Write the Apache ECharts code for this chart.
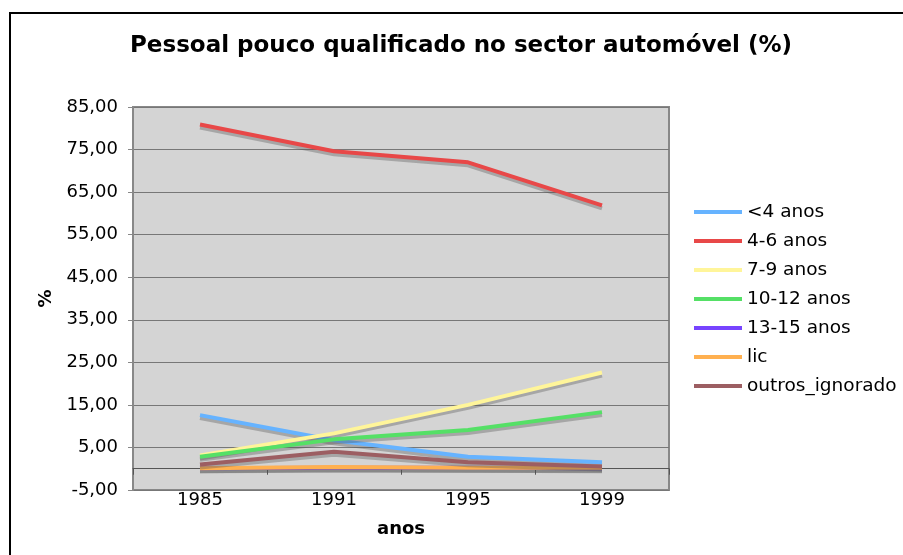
<!DOCTYPE html>
<html>
<head>
<meta charset="utf-8">
<script src="https://cdn.jsdelivr.net/npm/echarts@6/dist/echarts.min.js"></script>
<style>
html,body{margin:0;padding:0;background:#fff;}
#chart{width:903px;height:555px;}
</style>
</head>
<body>
<div id="chart"></div>
<script>
const years = ['1985', '1991', '1995', '1999'];
const seriesNames = ['<4 anos', '4-6 anos', '7-9 anos', '10-12 anos', '13-15 anos', 'lic', 'outros_ignorado'];
const menos4 = [12.6, 6.7, 2.8, 1.5];
const anos4a6 = [80.9, 74.6, 72.0, 61.9];
const anos7a9 = [3.1, 8.3, 15.0, 22.6];
const anos10a12 = [2.8, 6.9, 9.1, 13.3];
const anos13a15 = [0.1, 0.2, 0.2, 0.1];
const lic = [0.1, 0.4, 0.2, 0.2];
const outros = [1.0, 4.0, 1.5, 0.5];
const yTicks = [-5, 85, 10]; // min, max, step

const values = [menos4, anos4a6, anos7a9, anos10a12, anos13a15, lic, outros];
const colors = ['#66b3ff', '#e84848', '#fff59a', '#55e066', '#7744ff', '#ffb050', '#9c5e62'];
const FONT = 'DejaVu Sans';

const chart = echarts.init(document.getElementById('chart'));
chart.setOption({
  animation: false,
  backgroundColor: '#ffffff',
  color: colors,
  title: {
    text: 'Pessoal pouco qualificado no sector automóvel (%)',
    left: 456, top: 30, textAlign: 'center',
    textStyle: {fontFamily: FONT, fontSize: 23, fontWeight: 'bold', color: '#000'}
  },
  graphic: [{
    type: 'rect', silent: true, z: 100,
    shape: {x: 10, y: 13, width: 920, height: 580},
    style: {fill: 'none', stroke: '#000', lineWidth: 2}
  }],
  legend: {
    orient: 'vertical', left: 689, top: 197,
    icon: 'rect', itemWidth: 48, itemHeight: 4, itemGap: 9,
    data: seriesNames,
    textStyle: {fontFamily: FONT, fontSize: 18.5, color: '#000', lineHeight: 20}
  },
  grid: {
    left: 133, top: 107, right: 234, bottom: 65,
    show: true, backgroundColor: '#d4d4d4', borderColor: '#888', borderWidth: 2
  },
  xAxis: [{
    type: 'category', data: years, boundaryGap: true,
    axisLine: {onZero: true, lineStyle: {color: '#555', width: 1}},
    axisTick: {show: true, length: 6, lineStyle: {color: '#555'}},
    axisLabel: {show: false}
  }, {
    type: 'category', data: years, boundaryGap: true, position: 'bottom',
    axisLine: {show: false, onZero: false}, axisTick: {show: false},
    axisLabel: {fontFamily: FONT, fontSize: 18, color: '#000', margin: 1},
    name: 'anos', nameLocation: 'middle', nameGap: 30,
    nameTextStyle: {fontFamily: FONT, fontSize: 18, fontWeight: 'bold', color: '#000'}
  }],
  yAxis: {
    type: 'value', min: yTicks[0], max: yTicks[1], interval: yTicks[2],
    axisLine: {show: true, lineStyle: {color: '#888', width: 2}},
    axisTick: {show: true, length: 5, lineStyle: {color: '#888'}},
    axisLabel: {
      fontFamily: FONT, fontSize: 18, color: '#000', margin: 15,
      formatter: v => v.toFixed(2).replace('.', ',')
    },
    splitLine: {show: true, lineStyle: {color: '#777', width: 1}},
    name: '%', nameLocation: 'middle', nameGap: 78, nameRotate: 90,
    nameTextStyle: {fontFamily: FONT, fontSize: 18, fontWeight: 'bold', color: '#000'}
  },
  series: seriesNames.map((n, i) => ({
    name: n, type: 'line', data: values[i], xAxisIndex: 0,
    showSymbol: false, symbol: 'none',
    lineStyle: {width: 4, color: colors[i], shadowColor: 'rgba(80,80,80,0.35)', shadowBlur: 0, shadowOffsetY: 3, shadowOffsetX: 0}
  }))
});
</script>
</body>
</html>
